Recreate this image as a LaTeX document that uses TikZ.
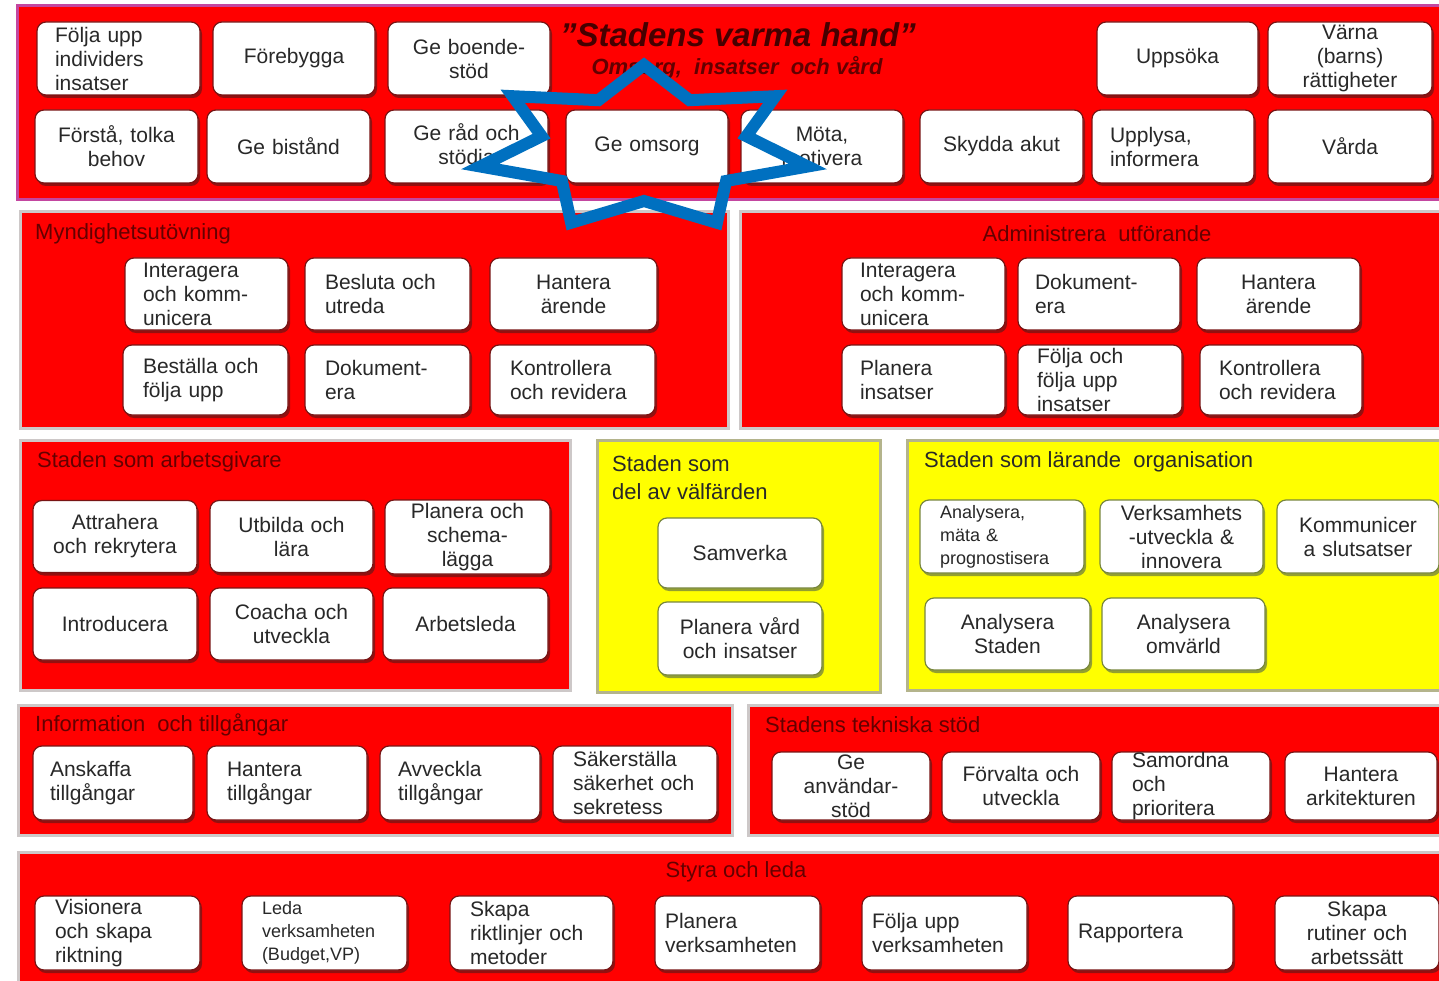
\documentclass[tikz,border=0pt]{standalone}
\usepackage{fontspec}
\setmainfont{Liberation Sans}
\usetikzlibrary{shadows}
\definecolor{bandred}{RGB}{255,0,0}
\definecolor{bandyel}{RGB}{255,255,0}
\definecolor{titledark}{RGB}{100,0,0}
\definecolor{headdark}{RGB}{70,0,0}
\definecolor{txt}{RGB}{40,40,40}
\definecolor{starblue}{RGB}{0,112,192}
\definecolor{magframe}{RGB}{195,70,160}
\definecolor{grayframe}{RGB}{205,200,200}
\definecolor{olframe}{RGB}{180,180,140}
\definecolor{redshadow}{RGB}{120,20,20}
\definecolor{yelshadow}{RGB}{120,135,60}
\newcommand\bxf{\fontsize{21}{24}\selectfont}
\newcommand\bxs{\fontsize{18}{23}\selectfont}
\newcommand\sectf{\fontsize{22}{28}\selectfont}
\tikzset{
  sz/.code n args={3}{%
    \pgfmathsetmacro\tw{#1-2*#3}%
    \edef\tmpsz{\noexpand\tikzset{minimum width=#1pt, minimum height=#2pt, text width=\tw pt}}\tmpsz},
  basebox/.style={rounded corners=9pt, fill=white, line width=1.2pt, text=txt, font=\bxf,
    inner xsep=0pt, inner ysep=0pt},
  rbox/.style={basebox, draw=redshadow,
    drop shadow={shadow xshift=2pt, shadow yshift=-3pt, fill=redshadow, opacity=0.8}},
  ybox/.style={basebox, draw=yelshadow,
    drop shadow={shadow xshift=2pt, shadow yshift=-3pt, fill=yelshadow, opacity=0.8}},
  lft/.style={align=left},
  ctr/.style={align=center},
  redband/.style={fill=bandred, draw=grayframe, line width=3pt},
  yelband/.style={fill=bandyel, draw=olframe, line width=3pt},
  secttitle/.style={font=\sectf, text=titledark, inner sep=0pt},
  ysecttitle/.style={font=\sectf, text=txt, inner sep=0pt, align=left},
  starline/.style={draw=starblue, line width=12pt, line join=miter}
}
\begin{document}
\begin{tikzpicture}[x=1pt,y=-1pt]
\useasboundingbox (0,0) rectangle (1439,981);
\fill[white] (0,0) rectangle (1439,981);

% ---------- bands ----------
\path[fill=bandred, draw=magframe, line width=3pt] (17,6) rectangle (1441,200);
\path[redband] (20,212) rectangle (728,428);
\path[redband] (740,212) rectangle (1441,428);
\path[redband] (20,440) rectangle (570,690);
\path[yelband] (597,440) rectangle (880,692);
\path[yelband] (907,440) rectangle (1441,690);
\path[redband] (18,705) rectangle (732,835);
\path[redband] (748,705) rectangle (1441,835);
\path[redband] (18,852) rectangle (1441,990);

% ---------- top band ----------
\node[font=\fontsize{33}{36}\selectfont\bfseries\itshape, text=headdark, inner sep=0pt] (title) at (738,35) {\symbol{34}Stadens varma hand\symbol{34}};
\node[font=\fontsize{22}{26}\selectfont\bfseries\itshape, text=headdark!85!red, inner sep=0pt] (subtitle) at (737,68) {Omsorg,\ \ insatser\ \ och vård};

\node[rbox, sz={163}{73}{18}, lft] (t1) at (118.5,58.5) {Följa upp\\individers\\insatser};
\node[rbox, sz={162}{73}{10}, ctr] (t2) at (294,58.5) {Förebygga};
\node[rbox, sz={162}{73}{10}, ctr] (t3) at (469,58.5) {Ge boende-\\stöd};
\node[rbox, sz={161}{73}{10}, ctr] (t4) at (1177.5,58.5) {Uppsöka};
\node[rbox, sz={164}{73}{10}, ctr] (t5) at (1350,58.5) {Värna\\(barns)\\rättigheter};

\node[rbox, sz={163}{73}{10}, ctr] (t6) at (116.5,146.5) {Förstå, tolka\\behov};
\node[rbox, sz={163}{73}{10}, ctr] (t7) at (288.5,146.5) {Ge bistånd};
\node[rbox, sz={163}{73}{10}, ctr] (t8) at (466.5,146.5) {Ge råd och\\stödja};
\node[rbox, sz={162}{73}{10}, ctr] (t9) at (647,146.5) {Ge omsorg};
\node[rbox, sz={162}{73}{10}, ctr] (t10) at (822,146.5) {Möta,\\motivera};
\node[rbox, sz={163}{73}{10}, ctr] (t11) at (1001.5,146.5) {Skydda akut};
\node[rbox, sz={162}{73}{18}, lft] (t12) at (1173,146.5) {Upplysa,\\informera};
\node[rbox, sz={164}{73}{10}, ctr] (t13) at (1350,146.5) {Vårda};

% ---------- Myndighetsutövning ----------
\node[secttitle, anchor=west] (myn) at (35,234) {Myndighetsutövning};
\node[rbox, sz={163}{72}{18}, lft] (m1) at (206.5,294) {Interagera\\och komm-\\unicera};
\node[rbox, sz={165}{72}{20}, lft] (m2) at (387.5,294) {Besluta och\\utreda};
\node[rbox, sz={167}{72}{10}, ctr] (m3) at (573.5,294) {Hantera\\ärende};
\node[rbox, sz={165}{70}{20}, lft] (m4) at (205.5,380) {Beställa och\\följa upp};
\node[rbox, sz={165}{70}{20}, lft] (m5) at (387.5,380) {Dokument-\\era};
\node[rbox, sz={165}{70}{20}, lft] (m6) at (572.5,380) {Kontrollera\\och revidera};

% ---------- Administrera utförande ----------
\node[secttitle] (adm) at (1097,234) {Administrera\ \ utförande};
\node[rbox, sz={163}{72}{18}, lft] (a1) at (923.5,294) {Interagera\\och komm-\\unicera};
\node[rbox, sz={162}{72}{17}, lft] (a2) at (1099,294) {Dokument-\\era};
\node[rbox, sz={163}{72}{10}, ctr] (a3) at (1278.5,294) {Hantera\\ärende};
\node[rbox, sz={163}{70}{18}, lft] (a4) at (923.5,380) {Planera\\insatser};
\node[rbox, sz={164}{70}{19}, lft] (a5) at (1100,380) {Följa och\\följa upp\\insatser};
\node[rbox, sz={162}{70}{19}, lft] (a6) at (1281,380) {Kontrollera\\och revidera};

% ---------- Staden som arbetsgivare ----------
\node[secttitle, anchor=west] (arb) at (37,462) {Staden som arbetsgivare};
\node[rbox, sz={164}{72}{8}, ctr] (g1) at (115,536.5) {Attrahera\\och rekrytera};
\node[rbox, sz={163}{72}{8}, ctr] (g2) at (291.5,536.5) {Utbilda och\\lära};
\node[rbox, sz={165}{74}{8}, ctr] (g3) at (467.5,537) {Planera och\\schema-\\lägga};
\node[rbox, sz={164}{72}{8}, ctr] (g4) at (115,624) {Introducera};
\node[rbox, sz={163}{72}{8}, ctr] (g5) at (291.5,624) {Coacha och\\utveckla};
\node[rbox, sz={165}{72}{8}, ctr] (g6) at (465.5,624) {Arbetsleda};

% ---------- Staden som del av välfärden ----------
\node[ysecttitle, anchor=west] (valf) at (612,478) {Staden som\\del av välfärden};
\node[ybox, sz={164}{70}{8}, ctr] (v1) at (740,553) {Samverka};
\node[ybox, sz={164}{73}{8}, ctr] (v2) at (740,638.5) {Planera vård\\och insatser};

% ---------- Staden som lärande organisation ----------
\node[ysecttitle, anchor=west] (lar) at (924,462) {Staden som lärande\ \ organisation};
\node[ybox, sz={164}{73}{20}, lft, font=\bxs] (l1) at (1002,536.5) {Analysera,\\mäta \&\\prognostisera};
\node[ybox, sz={163}{73}{6}, ctr] (l2) at (1181.5,536.5) {Verksamhets\\-utveckla \&\\innovera};
\node[ybox, sz={162}{73}{6}, ctr] (l3) at (1358,536.5) {Kommunicer\\a slutsatser};
\node[ybox, sz={165}{72}{8}, ctr] (l4) at (1007.5,634) {Analysera\\Staden};
\node[ybox, sz={163}{72}{8}, ctr] (l5) at (1183.5,634) {Analysera\\omvärld};

% ---------- Information och tillgångar ----------
\node[secttitle, anchor=west] (inf) at (35,725) {Information\ \ och tillgångar};
\node[rbox, sz={160}{74}{17}, lft] (i1) at (113,783) {Anskaffa\\tillgångar};
\node[rbox, sz={160}{74}{20}, lft] (i2) at (287,783) {Hantera\\tillgångar};
\node[rbox, sz={160}{74}{18}, lft] (i3) at (460,783) {Avveckla\\tillgångar};
\node[rbox, sz={164}{74}{20}, lft] (i4) at (635,783) {Säkerställa\\säkerhet och\\sekretess};

% ---------- Stadens tekniska stöd ----------
\node[secttitle, anchor=west] (tek) at (765,725) {Stadens tekniska stöd};
\node[rbox, sz={158}{68}{6}, ctr] (k1) at (851,786) {Ge\\användar-\\stöd};
\node[rbox, sz={158}{68}{6}, ctr] (k2) at (1021,786) {Förvalta och\\utveckla};
\node[rbox, sz={158}{68}{20}, lft] (k3) at (1191,786) {Samordna\\och\\prioritera};
\node[rbox, sz={152}{68}{4}, ctr] (k4) at (1361,786) {Hantera\\arkitekturen};

% ---------- Styra och leda ----------
\node[secttitle] (sty) at (736,872) {Styra och leda};
\node[rbox, sz={165}{74}{20}, lft] (s1) at (117.5,933) {Visionera\\och skapa\\riktning};
\node[rbox, sz={165}{74}{20}, lft, font=\bxs] (s2) at (324.5,933) {Leda\\verksamheten\\(Budget,VP)};
\node[rbox, sz={163}{74}{20}, lft] (s3) at (531.5,933) {Skapa\\riktlinjer och\\metoder};
\node[rbox, sz={165}{74}{10}, lft] (s4) at (737.5,933) {Planera\\verksamheten};
\node[rbox, sz={165}{74}{10}, lft] (s5) at (944.5,933) {Följa upp\\verksamheten};
\node[rbox, sz={165}{74}{10}, lft] (s6) at (1150.5,933) {Rapportera};
\node[rbox, sz={164}{74}{6}, ctr] (s7) at (1357,933) {Skapa\\rutiner och\\arbetssätt};

% ---------- star ----------
\draw[starline] (644,65) -- (689.6,100.2) -- (775.3,96.2) -- (746.4,136.2) -- (807.8,166.5)
  -- (726.1,181.0) -- (716.9,222.8) -- (644,201) -- (571.1,222.8) -- (561.9,181.0)
  -- (480.2,166.5) -- (541.6,136.2) -- (512.7,96.2) -- (598.4,100.2) -- cycle;
\end{tikzpicture}
\end{document}
